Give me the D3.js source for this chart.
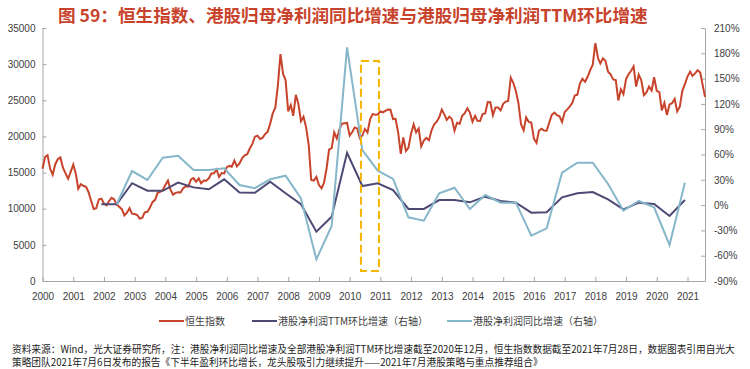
<!DOCTYPE html>
<html>
<head>
<meta charset="utf-8">
<script src="https://cdn.jsdelivr.net/npm/d3@7"></script>
<style>
  body { margin: 0; background: #fff; }
  text { font-family: "Liberation Sans", Arial, sans-serif; }
  .cjk { font-family: "Noto Sans CJK SC", sans-serif; }
  .axis path, .axis line { stroke: #a6a6a6; }
  .axis text { fill: #404040; font-size: 10px; }
</style>
</head>
<body>
<div id="chart"></div>
<script>
var svgWidth = 750;
var svgHeight = 369;

var margin = { top: 28, right: 45, bottom: 88, left: 42.5 };
var chartWidth = svgWidth - margin.left - margin.right;
var chartHeight = svgHeight - margin.top - margin.bottom;

// 恒生指数, monthly from 2000-01, last point 2021-07-28
var hsiStart = "2000-01";
var hsiEnd = "2021-07-28";
var hsiValues = [
  15532, 17169, 17406, 15519, 14713, 16155, 16841, 17097, 15648, 14895, 14145, 15096,
  16102, 14788, 12761, 13386, 13174, 13043, 12316, 11093, 9951, 10074, 11279, 11397,
  10725, 10482, 11033, 11497, 11301, 10598, 10268, 9936, 9072, 9441, 10070, 9321,
  9258, 9123, 8634, 8717, 9487, 9577, 10134, 10908, 11229, 12190, 12318, 12576,
  13289, 13907, 12682, 11942, 12198, 12286, 12239, 12850, 13120, 13054, 14060, 14230,
  13721, 14196, 13516, 13908, 13868, 14201, 14880, 14904, 15429, 14386, 14937, 14876,
  15753, 15918, 15805, 16661, 15857, 16267, 16971, 17392, 17543, 18324, 18960, 19965,
  20106, 19652, 19801, 20318, 20635, 21773, 23185, 23984, 27142, 31400, 28643, 27813,
  23456, 24332, 22849, 25755, 24533, 22102, 22731, 21262, 18816, 13969, 13888, 14387,
  13278, 12812, 13576, 15521, 18171, 18379, 20573, 19724, 20955, 21753, 21822, 21873,
  20122, 20608, 21239, 21108, 19765, 20129, 21030, 20537, 22358, 23096, 23008, 23035,
  23447, 23338, 23528, 23720, 23684, 22398, 22440, 20535, 17592, 19865, 17989, 18434,
  20390, 21680, 20556, 21094, 18630, 19441, 19796, 19482, 20840, 21642, 22030, 22657,
  23730, 23020, 22300, 22737, 22392, 20803, 21883, 21731, 22860, 23206, 23881, 23306,
  22035, 22837, 22151, 22134, 23082, 23191, 24757, 24742, 22933, 23998, 23987, 23605,
  24507, 24823, 24901, 28133, 27424, 26250, 24636, 21671, 20846, 22640, 21996, 21914,
  19683, 19112, 20777, 21067, 20815, 20794, 21891, 22977, 23297, 22935, 22790, 22001,
  23361, 23741, 24112, 24615, 25661, 25765, 27324, 27970, 27554, 28246, 29177, 29919,
  32900, 30845, 30093, 30808, 30469, 28955, 28583, 27889, 27789, 24980, 26507, 25846,
  27942, 28633, 29051, 29699, 26901, 28543, 27778, 25725, 26092, 26907, 26346, 28190,
  26313, 26130, 23603, 24644, 22961, 24427, 24595, 25177, 23459, 24107, 26341, 27231,
  28284, 28980, 28378, 28725, 29152, 28828, 25473
];

// 港股净利润TTM环比增速（右轴）, half-yearly, %
var ttmDates = ["2001-12",
  "2002-06","2002-12","2003-06","2003-12","2004-06","2004-12","2005-06","2005-12",
  "2006-06","2006-12","2007-06","2007-12","2008-06","2008-12","2009-06","2009-12",
  "2010-06","2010-12","2011-06","2011-12","2012-06","2012-12","2013-06","2013-12",
  "2014-06","2014-12","2015-06","2015-12","2016-06","2016-12","2017-06","2017-12",
  "2018-06","2018-12","2019-06","2019-12","2020-06","2020-12"];
var ttmValues = [1,
  1, 26, 17, 17, 26.6, 21, 18.7, 30.6,
  15, 14.6, 27.8, 14, 1, -31.5, -13.7, 62,
  22.6, 25.8, 17.9, -4.6, -4.5, 6, 6, 3.3,
  10, 4.9, 2.9, -9, -8.5, 9.2, 14, 15.5,
  6.8, -5, 2.9, 1.3, -12.9, 6];

// 港股净利润同比增速（右轴）, half-yearly, %
var yoyDates = ttmDates.slice(1);
var yoyValues = [
  1, 40.4, 29.8, 56.2, 58.6, 41.6, 41.6, 43.6,
  23.8, 20, 30.6, 34.9, 8, -64.3, -24.8, 187,
  65.3, 40.8, 31, -14.5, -18.5, 14, 20.6, -4.6,
  12, 2.9, 2.9, -36.3, -27.6, 38.5, 50.3, 50.3,
  25, -6.6, 4.9, -2.6, -47.3, 26.6];

// highlighted period (dashed box), right-axis units
var highlight = { start: "2010-05-15", end: "2010-12-15", top: 171, bottom: -78 };

var leftTicks = [0, 5000, 10000, 15000, 20000, 25000, 30000, 35000];
var rightTicks = [-90, -60, -30, 0, 30, 60, 90, 120, 150, 180, 210];

var seriesNames = ["恒生指数", "港股净利润TTM环比增速（右轴）", "港股净利润同比增速（右轴）"];
var seriesColors = ["#c8432b", "#4d4975", "#86b6c9"];

var titleText = "图 59：恒生指数、港股归母净利润同比增速与港股归母净利润TTM环比增速";
var noteLines = [
  "资料来源：Wind，光大证券研究所，注：港股净利润同比增速及全部港股净利润TTM环比增速截至2020年12月，恒生指数数据截至2021年7月28日，数据图表引用自光大",
  "策略团队2021年7月6日发布的报告《下半年盈利环比增长，龙头股吸引力继续提升——2021年7月港股策略与重点推荐组合》"
];

var parseMonth = d3.timeParse("%Y-%m");
var parseDay = d3.timeParse("%Y-%m-%d");

var hsiData = hsiValues.map(function(v, i) {
  var d = d3.timeMonth.offset(parseMonth(hsiStart), i);
  if (i === hsiValues.length - 1) d = parseDay(hsiEnd);
  return { date: d, value: v };
});
var ttmData = ttmDates.map(function(d, i) { return { date: parseMonth(d), value: ttmValues[i] }; });
var yoyData = yoyDates.map(function(d, i) { return { date: parseMonth(d), value: yoyValues[i] }; });

var svg = d3.select("#chart")
  .append("svg")
  .attr("width", svgWidth)
  .attr("height", svgHeight);

svg.append("text")
  .attr("class", "cjk")
  .attr("x", 58)
  .attr("y", 21.5)
  .attr("font-size", "17.6px")
  .attr("font-weight", "bold")
  .attr("fill", "#c8432b")
  .text(titleText);

var chartGroup = svg.append("g")
  .attr("transform", `translate(${margin.left}, ${margin.top})`);

var xScale = d3.scaleTime()
  .domain([parseMonth(hsiStart), parseDay(hsiEnd)])
  .range([0, chartWidth]);
var yLeft = d3.scaleLinear().domain([0, 35000]).range([chartHeight, 0]);
var yRight = d3.scaleLinear().domain([-90, 210]).range([chartHeight, 0]);

chartGroup.append("g")
  .attr("class", "axis")
  .attr("transform", `translate(0, ${chartHeight})`)
  .call(d3.axisBottom(xScale).ticks(d3.timeYear.every(1)).tickFormat(d3.timeFormat("%Y"))
    .tickSizeInner(-4).tickSizeOuter(0).tickPadding(12));

chartGroup.append("g")
  .attr("class", "axis")
  .call(d3.axisLeft(yLeft).tickValues(leftTicks).tickFormat(d3.format("d"))
    .tickSizeInner(-4).tickSizeOuter(0).tickPadding(7));

chartGroup.append("g")
  .attr("class", "axis")
  .attr("transform", `translate(${chartWidth}, 0)`)
  .call(d3.axisRight(yRight).tickValues(rightTicks).tickFormat(function(d) { return d + "%"; })
    .tickSizeInner(-4).tickSizeOuter(0).tickPadding(9));

var hsiLine = d3.line().x(d => xScale(d.date)).y(d => yLeft(d.value));
var rightLine = d3.line().x(d => xScale(d.date)).y(d => yRight(d.value));

chartGroup.append("path")
  .datum(hsiData)
  .attr("d", hsiLine)
  .attr("fill", "none")
  .attr("stroke", seriesColors[0])
  .attr("stroke-width", 2);

chartGroup.append("path")
  .datum(ttmData)
  .attr("d", rightLine)
  .attr("fill", "none")
  .attr("stroke", seriesColors[1])
  .attr("stroke-width", 2);

chartGroup.append("path")
  .datum(yoyData)
  .attr("d", rightLine)
  .attr("fill", "none")
  .attr("stroke", seriesColors[2])
  .attr("stroke-width", 2);

chartGroup.append("rect")
  .attr("x", xScale(parseDay(highlight.start)))
  .attr("y", yRight(highlight.top))
  .attr("width", xScale(parseDay(highlight.end)) - xScale(parseDay(highlight.start)))
  .attr("height", yRight(highlight.bottom) - yRight(highlight.top))
  .attr("fill", "none")
  .attr("stroke", "#f5b400")
  .attr("stroke-width", 2)
  .attr("stroke-dasharray", "8,4");

// legend
var legendX = [159, 252, 447];
var legend = svg.append("g");
seriesNames.forEach(function(name, i) {
  legend.append("line")
    .attr("x1", legendX[i]).attr("x2", legendX[i] + 25)
    .attr("y1", 321).attr("y2", 321)
    .attr("stroke", seriesColors[i])
    .attr("stroke-width", 2);
  legend.append("text")
    .attr("class", "cjk")
    .attr("x", legendX[i] + 26)
    .attr("y", 324.5)
    .attr("font-size", "10px")
    .attr("fill", "#404040")
    .text(name);
});

noteLines.forEach(function(line, i) {
  svg.append("text")
    .attr("class", "cjk")
    .attr("x", 12)
    .attr("y", 352.5 + i * 13.5)
    .attr("font-size", "9.7px")
    .attr("fill", "#222")
    .text(line);
});
</script>
</body>
</html>
